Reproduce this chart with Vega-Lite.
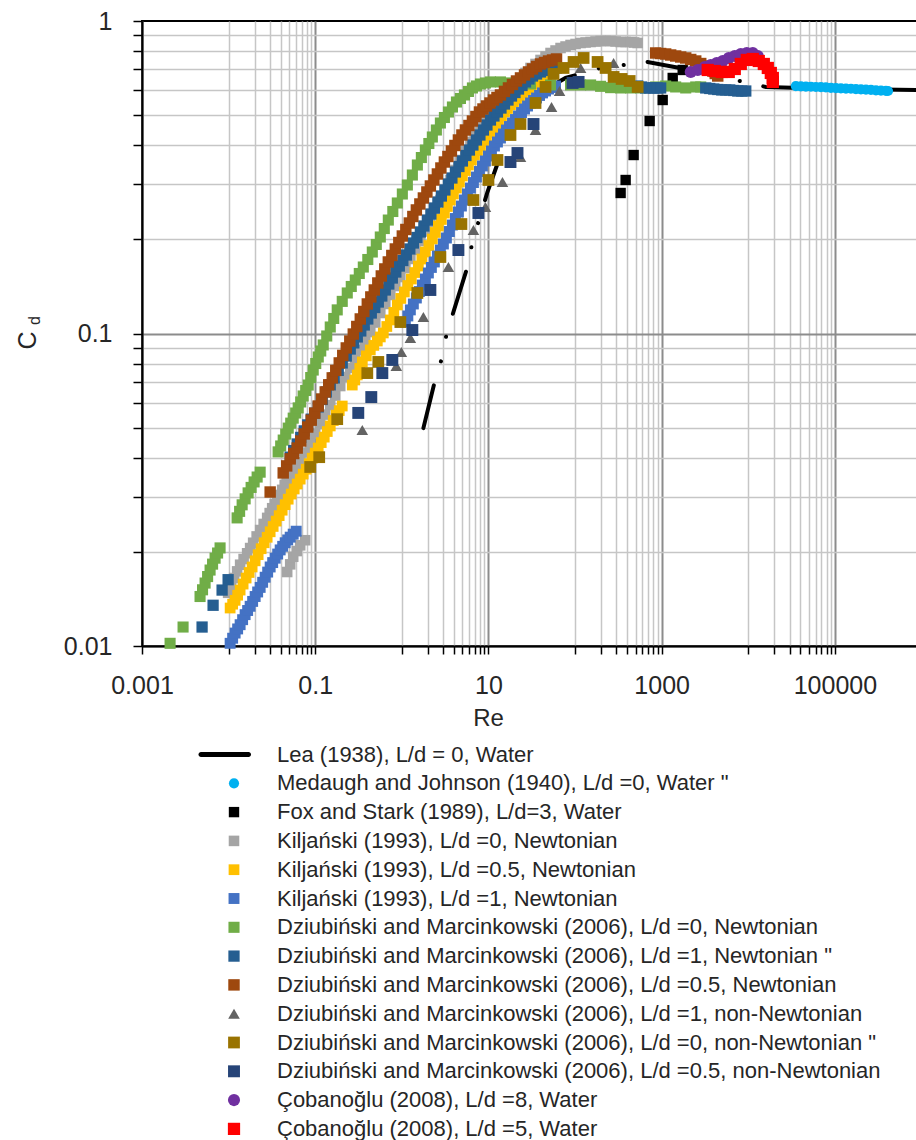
{
  "$schema": "https://vega.github.io/schema/vega-lite/v6.json",
  "width": 775,
  "height": 625,
  "autosize": "none",
  "padding": {"left": 142, "top": 21, "right": 0, "bottom": 494},
  "background": "white",
  "title": {"text": "d", "orient": "left", "anchor": "middle", "frame": "group", "fontSize": 16, "fontWeight": "normal", "color": "#262626", "font": "Liberation Sans", "offset": -28, "dx": 13},
  "config": {
    "font": "Liberation Sans",
    "view": {"stroke": "#000000", "strokeWidth": 2},
    "axis": {"labelFont": "Liberation Sans", "titleFont": "Liberation Sans", "labelColor": "#262626", "titleColor": "#262626", "titleFontWeight": "normal"}
  },
  "datasets": {
    "lea": [
      {"Re": 1.773, "Cd": 0.0498},
      {"Re": 2.375, "Cd": 0.0694},
      {"Re": 2.861, "Cd": 0.0823},
      {"Re": 3.269, "Cd": 0.0989},
      {"Re": 3.939, "Cd": 0.1172},
      {"Re": 5.718, "Cd": 0.1632},
      {"Re": 6.531, "Cd": 0.1962},
      {"Re": 9.736, "Cd": 0.2836},
      {"Re": 17.96, "Cd": 0.4579},
      {"Re": 34.95, "Cd": 0.5799},
      {"Re": 77.7, "Cd": 0.6573},
      {"Re": 197.2, "Cd": 0.7075},
      {"Re": 688.8, "Cd": 0.7395},
      {"Re": 2164, "Cd": 0.6971},
      {"Re": 15930, "Cd": 0.6151},
      {"Re": 40450, "Cd": 0.6106},
      {"Re": 153100, "Cd": 0.6058},
      {"Re": 887000, "Cd": 0.6017}
    ],
    "pts": [
      {"s": "Medaugh and Johnson (1940), L/d =0, Water \"", "Re": 35410, "Cd": 0.619},
      {"s": "Medaugh and Johnson (1940), L/d =0, Water \"", "Re": 40450, "Cd": 0.618},
      {"s": "Medaugh and Johnson (1940), L/d =0, Water \"", "Re": 46200, "Cd": 0.617},
      {"s": "Medaugh and Johnson (1940), L/d =0, Water \"", "Re": 52790, "Cd": 0.616},
      {"s": "Medaugh and Johnson (1940), L/d =0, Water \"", "Re": 60300, "Cd": 0.615},
      {"s": "Medaugh and Johnson (1940), L/d =0, Water \"", "Re": 68890, "Cd": 0.614},
      {"s": "Medaugh and Johnson (1940), L/d =0, Water \"", "Re": 78700, "Cd": 0.613},
      {"s": "Medaugh and Johnson (1940), L/d =0, Water \"", "Re": 89900, "Cd": 0.611},
      {"s": "Medaugh and Johnson (1940), L/d =0, Water \"", "Re": 102700, "Cd": 0.61},
      {"s": "Medaugh and Johnson (1940), L/d =0, Water \"", "Re": 117300, "Cd": 0.609},
      {"s": "Medaugh and Johnson (1940), L/d =0, Water \"", "Re": 134100, "Cd": 0.608},
      {"s": "Medaugh and Johnson (1940), L/d =0, Water \"", "Re": 153100, "Cd": 0.607},
      {"s": "Medaugh and Johnson (1940), L/d =0, Water \"", "Re": 174900, "Cd": 0.605},
      {"s": "Medaugh and Johnson (1940), L/d =0, Water \"", "Re": 199800, "Cd": 0.604},
      {"s": "Medaugh and Johnson (1940), L/d =0, Water \"", "Re": 228200, "Cd": 0.603},
      {"s": "Medaugh and Johnson (1940), L/d =0, Water \"", "Re": 260800, "Cd": 0.602},
      {"s": "Medaugh and Johnson (1940), L/d =0, Water \"", "Re": 297900, "Cd": 0.6},
      {"s": "Medaugh and Johnson (1940), L/d =0, Water \"", "Re": 340200, "Cd": 0.599},
      {"s": "Medaugh and Johnson (1940), L/d =0, Water \"", "Re": 388700, "Cd": 0.598},
      {"s": "Medaugh and Johnson (1940), L/d =0, Water \"", "Re": 410000, "Cd": 0.597},
      {"s": "Fox and Stark (1989), L/d=3, Water", "Re": 335.7, "Cd": 0.2816},
      {"s": "Fox and Stark (1989), L/d=3, Water", "Re": 383.6, "Cd": 0.3099},
      {"s": "Fox and Stark (1989), L/d=3, Water", "Re": 474.6, "Cd": 0.3725},
      {"s": "Fox and Stark (1989), L/d=3, Water", "Re": 726.6, "Cd": 0.4786},
      {"s": "Fox and Stark (1989), L/d=3, Water", "Re": 1027, "Cd": 0.5587},
      {"s": "Fox and Stark (1989), L/d=3, Water", "Re": 1341, "Cd": 0.6573},
      {"s": "Fox and Stark (1989), L/d=3, Water", "Re": 1749, "Cd": 0.6971},
      {"s": "Kiljański  (1993), L/d =0, Newtonian", "Re": 0.00987, "Cd": 0.0148},
      {"s": "Kiljański  (1993), L/d =0, Newtonian", "Re": 0.01069, "Cd": 0.01563},
      {"s": "Kiljański  (1993), L/d =0, Newtonian", "Re": 0.01158, "Cd": 0.0165},
      {"s": "Kiljański  (1993), L/d =0, Newtonian", "Re": 0.01254, "Cd": 0.01733},
      {"s": "Kiljański  (1993), L/d =0, Newtonian", "Re": 0.01358, "Cd": 0.0182},
      {"s": "Kiljański  (1993), L/d =0, Newtonian", "Re": 0.0149, "Cd": 0.01898},
      {"s": "Kiljański  (1993), L/d =0, Newtonian", "Re": 0.01636, "Cd": 0.0198},
      {"s": "Kiljański  (1993), L/d =0, Newtonian", "Re": 0.01772, "Cd": 0.02058},
      {"s": "Kiljański  (1993), L/d =0, Newtonian", "Re": 0.0192, "Cd": 0.0214},
      {"s": "Kiljański  (1993), L/d =0, Newtonian", "Re": 0.02107, "Cd": 0.02242},
      {"s": "Kiljański  (1993), L/d =0, Newtonian", "Re": 0.02313, "Cd": 0.0235},
      {"s": "Kiljański  (1993), L/d =0, Newtonian", "Re": 0.02539, "Cd": 0.02458},
      {"s": "Kiljański  (1993), L/d =0, Newtonian", "Re": 0.02787, "Cd": 0.0257},
      {"s": "Kiljański  (1993), L/d =0, Newtonian", "Re": 0.02979, "Cd": 0.02663},
      {"s": "Kiljański  (1993), L/d =0, Newtonian", "Re": 0.03184, "Cd": 0.0276},
      {"s": "Kiljański  (1993), L/d =0, Newtonian", "Re": 0.03403, "Cd": 0.02844},
      {"s": "Kiljański  (1993), L/d =0, Newtonian", "Re": 0.03637, "Cd": 0.0293},
      {"s": "Kiljański  (1993), L/d =0, Newtonian", "Re": 0.03887, "Cd": 0.03043},
      {"s": "Kiljański  (1993), L/d =0, Newtonian", "Re": 0.04154, "Cd": 0.0316},
      {"s": "Kiljański  (1993), L/d =0, Newtonian", "Re": 0.0444, "Cd": 0.03278},
      {"s": "Kiljański  (1993), L/d =0, Newtonian", "Re": 0.04746, "Cd": 0.034},
      {"s": "Kiljański  (1993), L/d =0, Newtonian", "Re": 0.05142, "Cd": 0.03528},
      {"s": "Kiljański  (1993), L/d =0, Newtonian", "Re": 0.0557, "Cd": 0.0366},
      {"s": "Kiljański  (1993), L/d =0, Newtonian", "Re": 0.06112, "Cd": 0.03768},
      {"s": "Kiljański  (1993), L/d =0, Newtonian", "Re": 0.04746, "Cd": 0.01725},
      {"s": "Kiljański  (1993), L/d =0, Newtonian", "Re": 0.05142, "Cd": 0.01825},
      {"s": "Kiljański  (1993), L/d =0, Newtonian", "Re": 0.0557, "Cd": 0.0193},
      {"s": "Kiljański  (1993), L/d =0, Newtonian", "Re": 0.06112, "Cd": 0.02013},
      {"s": "Kiljański  (1993), L/d =0, Newtonian", "Re": 0.06707, "Cd": 0.021},
      {"s": "Kiljański  (1993), L/d =0, Newtonian", "Re": 0.07662, "Cd": 0.0218},
      {"s": "Kiljański  (1993), L/d =0, Newtonian", "Re": 0.06707, "Cd": 0.0388},
      {"s": "Kiljański  (1993), L/d =0, Newtonian", "Re": 0.07662, "Cd": 0.0416},
      {"s": "Kiljański  (1993), L/d =0, Newtonian", "Re": 0.08753, "Cd": 0.0446},
      {"s": "Kiljański  (1993), L/d =0, Newtonian", "Re": 0.09998, "Cd": 0.04783},
      {"s": "Kiljański  (1993), L/d =0, Newtonian", "Re": 0.1142, "Cd": 0.0513},
      {"s": "Kiljański  (1993), L/d =0, Newtonian", "Re": 0.1305, "Cd": 0.05502},
      {"s": "Kiljański  (1993), L/d =0, Newtonian", "Re": 0.1491, "Cd": 0.059},
      {"s": "Kiljański  (1993), L/d =0, Newtonian", "Re": 0.1703, "Cd": 0.06329},
      {"s": "Kiljański  (1993), L/d =0, Newtonian", "Re": 0.1945, "Cd": 0.0679},
      {"s": "Kiljański  (1993), L/d =0, Newtonian", "Re": 0.2222, "Cd": 0.07259},
      {"s": "Kiljański  (1993), L/d =0, Newtonian", "Re": 0.2539, "Cd": 0.0776},
      {"s": "Kiljański  (1993), L/d =0, Newtonian", "Re": 0.29, "Cd": 0.08292},
      {"s": "Kiljański  (1993), L/d =0, Newtonian", "Re": 0.3313, "Cd": 0.0886},
      {"s": "Kiljański  (1993), L/d =0, Newtonian", "Re": 0.3784, "Cd": 0.09464},
      {"s": "Kiljański  (1993), L/d =0, Newtonian", "Re": 0.4323, "Cd": 0.1011},
      {"s": "Kiljański  (1993), L/d =0, Newtonian", "Re": 0.4938, "Cd": 0.1084},
      {"s": "Kiljański  (1993), L/d =0, Newtonian", "Re": 0.5641, "Cd": 0.1163},
      {"s": "Kiljański  (1993), L/d =0, Newtonian", "Re": 0.6444, "Cd": 0.1243},
      {"s": "Kiljański  (1993), L/d =0, Newtonian", "Re": 0.7362, "Cd": 0.1328},
      {"s": "Kiljański  (1993), L/d =0, Newtonian", "Re": 0.8411, "Cd": 0.1419},
      {"s": "Kiljański  (1993), L/d =0, Newtonian", "Re": 0.961, "Cd": 0.1516},
      {"s": "Kiljański  (1993), L/d =0, Newtonian", "Re": 1.098, "Cd": 0.162},
      {"s": "Kiljański  (1993), L/d =0, Newtonian", "Re": 1.254, "Cd": 0.1732},
      {"s": "Kiljański  (1993), L/d =0, Newtonian", "Re": 1.432, "Cd": 0.1851},
      {"s": "Kiljański  (1993), L/d =0, Newtonian", "Re": 1.636, "Cd": 0.1977},
      {"s": "Kiljański  (1993), L/d =0, Newtonian", "Re": 1.869, "Cd": 0.212},
      {"s": "Kiljański  (1993), L/d =0, Newtonian", "Re": 2.135, "Cd": 0.2274},
      {"s": "Kiljański  (1993), L/d =0, Newtonian", "Re": 2.439, "Cd": 0.2466},
      {"s": "Kiljański  (1993), L/d =0, Newtonian", "Re": 2.787, "Cd": 0.2674},
      {"s": "Kiljański  (1993), L/d =0, Newtonian", "Re": 3.184, "Cd": 0.2879},
      {"s": "Kiljański  (1993), L/d =0, Newtonian", "Re": 3.637, "Cd": 0.3099},
      {"s": "Kiljański  (1993), L/d =0, Newtonian", "Re": 4.155, "Cd": 0.3336},
      {"s": "Kiljański  (1993), L/d =0, Newtonian", "Re": 4.746, "Cd": 0.3591},
      {"s": "Kiljański  (1993), L/d =0, Newtonian", "Re": 5.422, "Cd": 0.3837},
      {"s": "Kiljański  (1993), L/d =0, Newtonian", "Re": 6.194, "Cd": 0.41},
      {"s": "Kiljański  (1993), L/d =0, Newtonian", "Re": 7.076, "Cd": 0.4332},
      {"s": "Kiljański  (1993), L/d =0, Newtonian", "Re": 8.083, "Cd": 0.4579},
      {"s": "Kiljański  (1993), L/d =0, Newtonian", "Re": 9.234, "Cd": 0.4821},
      {"s": "Kiljański  (1993), L/d =0, Newtonian", "Re": 10.55, "Cd": 0.5076},
      {"s": "Kiljański  (1993), L/d =0, Newtonian", "Re": 12.05, "Cd": 0.5325},
      {"s": "Kiljański  (1993), L/d =0, Newtonian", "Re": 13.76, "Cd": 0.5587},
      {"s": "Kiljański  (1993), L/d =0, Newtonian", "Re": 15.72, "Cd": 0.5817},
      {"s": "Kiljański  (1993), L/d =0, Newtonian", "Re": 17.96, "Cd": 0.6058},
      {"s": "Kiljański  (1993), L/d =0, Newtonian", "Re": 20.52, "Cd": 0.631},
      {"s": "Kiljański  (1993), L/d =0, Newtonian", "Re": 23.44, "Cd": 0.6573},
      {"s": "Kiljański  (1993), L/d =0, Newtonian", "Re": 26.78, "Cd": 0.6819},
      {"s": "Kiljański  (1993), L/d =0, Newtonian", "Re": 30.59, "Cd": 0.7075},
      {"s": "Kiljański  (1993), L/d =0, Newtonian", "Re": 34.95, "Cd": 0.7287},
      {"s": "Kiljański  (1993), L/d =0, Newtonian", "Re": 39.92, "Cd": 0.7505},
      {"s": "Kiljański  (1993), L/d =0, Newtonian", "Re": 45.6, "Cd": 0.77},
      {"s": "Kiljański  (1993), L/d =0, Newtonian", "Re": 52.1, "Cd": 0.79},
      {"s": "Kiljański  (1993), L/d =0, Newtonian", "Re": 59.52, "Cd": 0.8046},
      {"s": "Kiljański  (1993), L/d =0, Newtonian", "Re": 68.0, "Cd": 0.8195},
      {"s": "Kiljański  (1993), L/d =0, Newtonian", "Re": 77.66, "Cd": 0.8287},
      {"s": "Kiljański  (1993), L/d =0, Newtonian", "Re": 88.7, "Cd": 0.838},
      {"s": "Kiljański  (1993), L/d =0, Newtonian", "Re": 101.3, "Cd": 0.8442},
      {"s": "Kiljański  (1993), L/d =0, Newtonian", "Re": 115.8, "Cd": 0.8504},
      {"s": "Kiljański  (1993), L/d =0, Newtonian", "Re": 132.3, "Cd": 0.8535},
      {"s": "Kiljański  (1993), L/d =0, Newtonian", "Re": 151.1, "Cd": 0.8567},
      {"s": "Kiljański  (1993), L/d =0, Newtonian", "Re": 172.6, "Cd": 0.8598},
      {"s": "Kiljański  (1993), L/d =0, Newtonian", "Re": 197.2, "Cd": 0.863},
      {"s": "Kiljański  (1993), L/d =0, Newtonian", "Re": 225.3, "Cd": 0.863},
      {"s": "Kiljański  (1993), L/d =0, Newtonian", "Re": 257.3, "Cd": 0.863},
      {"s": "Kiljański  (1993), L/d =0, Newtonian", "Re": 293.9, "Cd": 0.8598},
      {"s": "Kiljański  (1993), L/d =0, Newtonian", "Re": 335.7, "Cd": 0.8567},
      {"s": "Kiljański  (1993), L/d =0, Newtonian", "Re": 383.5, "Cd": 0.8567},
      {"s": "Kiljański  (1993), L/d =0, Newtonian", "Re": 438.2, "Cd": 0.8567},
      {"s": "Kiljański  (1993), L/d =0, Newtonian", "Re": 480.9, "Cd": 0.8535},
      {"s": "Kiljański  (1993), L/d =0, Newtonian", "Re": 527.8, "Cd": 0.8504},
      {"s": "Kiljański (1993), L/d =0.5, Newtonian", "Re": 0.01041, "Cd": 0.01323},
      {"s": "Kiljański (1993), L/d =0.5, Newtonian", "Re": 0.01113, "Cd": 0.01361},
      {"s": "Kiljański (1993), L/d =0.5, Newtonian", "Re": 0.01189, "Cd": 0.014},
      {"s": "Kiljański (1993), L/d =0.5, Newtonian", "Re": 0.01271, "Cd": 0.01454},
      {"s": "Kiljański (1993), L/d =0.5, Newtonian", "Re": 0.01358, "Cd": 0.0151},
      {"s": "Kiljański (1993), L/d =0.5, Newtonian", "Re": 0.01471, "Cd": 0.01578},
      {"s": "Kiljański (1993), L/d =0.5, Newtonian", "Re": 0.01593, "Cd": 0.0165},
      {"s": "Kiljański (1993), L/d =0.5, Newtonian", "Re": 0.01725, "Cd": 0.01719},
      {"s": "Kiljański (1993), L/d =0.5, Newtonian", "Re": 0.01869, "Cd": 0.0179},
      {"s": "Kiljański (1993), L/d =0.5, Newtonian", "Re": 0.02025, "Cd": 0.01873},
      {"s": "Kiljański (1993), L/d =0.5, Newtonian", "Re": 0.02193, "Cd": 0.0196},
      {"s": "Kiljański (1993), L/d =0.5, Newtonian", "Re": 0.02375, "Cd": 0.02048},
      {"s": "Kiljański (1993), L/d =0.5, Newtonian", "Re": 0.02573, "Cd": 0.0214},
      {"s": "Kiljański (1993), L/d =0.5, Newtonian", "Re": 0.02787, "Cd": 0.02228},
      {"s": "Kiljański (1993), L/d =0.5, Newtonian", "Re": 0.03018, "Cd": 0.0232},
      {"s": "Kiljański (1993), L/d =0.5, Newtonian", "Re": 0.03269, "Cd": 0.02413},
      {"s": "Kiljański (1993), L/d =0.5, Newtonian", "Re": 0.0354, "Cd": 0.0251},
      {"s": "Kiljański (1993), L/d =0.5, Newtonian", "Re": 0.03835, "Cd": 0.02613},
      {"s": "Kiljański (1993), L/d =0.5, Newtonian", "Re": 0.04154, "Cd": 0.0272},
      {"s": "Kiljański (1993), L/d =0.5, Newtonian", "Re": 0.045, "Cd": 0.02833},
      {"s": "Kiljański (1993), L/d =0.5, Newtonian", "Re": 0.04874, "Cd": 0.0295},
      {"s": "Kiljański (1993), L/d =0.5, Newtonian", "Re": 0.05279, "Cd": 0.03063},
      {"s": "Kiljański (1993), L/d =0.5, Newtonian", "Re": 0.05717, "Cd": 0.0318},
      {"s": "Kiljański (1993), L/d =0.5, Newtonian", "Re": 0.06192, "Cd": 0.03298},
      {"s": "Kiljański (1993), L/d =0.5, Newtonian", "Re": 0.06707, "Cd": 0.0342},
      {"s": "Kiljański (1993), L/d =0.5, Newtonian", "Re": 0.07266, "Cd": 0.03548},
      {"s": "Kiljański (1993), L/d =0.5, Newtonian", "Re": 0.07871, "Cd": 0.0368},
      {"s": "Kiljański (1993), L/d =0.5, Newtonian", "Re": 0.08524, "Cd": 0.03832},
      {"s": "Kiljański (1993), L/d =0.5, Newtonian", "Re": 0.09232, "Cd": 0.0399},
      {"s": "Kiljański (1993), L/d =0.5, Newtonian", "Re": 0.09999, "Cd": 0.04142},
      {"s": "Kiljański (1993), L/d =0.5, Newtonian", "Re": 0.1083, "Cd": 0.043},
      {"s": "Kiljański (1993), L/d =0.5, Newtonian", "Re": 0.1173, "Cd": 0.04476},
      {"s": "Kiljański (1993), L/d =0.5, Newtonian", "Re": 0.1271, "Cd": 0.0466},
      {"s": "Kiljański (1993), L/d =0.5, Newtonian", "Re": 0.1377, "Cd": 0.04856},
      {"s": "Kiljański (1993), L/d =0.5, Newtonian", "Re": 0.1491, "Cd": 0.0506},
      {"s": "Kiljański (1993), L/d =0.5, Newtonian", "Re": 0.1615, "Cd": 0.05266},
      {"s": "Kiljański (1993), L/d =0.5, Newtonian", "Re": 0.1749, "Cd": 0.0548},
      {"s": "Kiljański (1993), L/d =0.5, Newtonian", "Re": 0.1894, "Cd": 0.05667},
      {"s": "Kiljański (1993), L/d =0.5, Newtonian", "Re": 0.2051, "Cd": 0.0586},
      {"s": "Kiljański (1993), L/d =0.5, Newtonian", "Re": 0.2677, "Cd": 0.0684},
      {"s": "Kiljański (1993), L/d =0.5, Newtonian", "Re": 0.2862, "Cd": 0.071},
      {"s": "Kiljański (1993), L/d =0.5, Newtonian", "Re": 0.3059, "Cd": 0.0737},
      {"s": "Kiljański (1993), L/d =0.5, Newtonian", "Re": 0.327, "Cd": 0.0773},
      {"s": "Kiljański (1993), L/d =0.5, Newtonian", "Re": 0.3496, "Cd": 0.0811},
      {"s": "Kiljański (1993), L/d =0.5, Newtonian", "Re": 0.3888, "Cd": 0.0848},
      {"s": "Kiljański (1993), L/d =0.5, Newtonian", "Re": 0.4323, "Cd": 0.0886},
      {"s": "Kiljański (1993), L/d =0.5, Newtonian", "Re": 0.4745, "Cd": 0.0916},
      {"s": "Kiljański (1993), L/d =0.5, Newtonian", "Re": 0.5209, "Cd": 0.0946},
      {"s": "Kiljański (1993), L/d =0.5, Newtonian", "Re": 0.5642, "Cd": 0.0975},
      {"s": "Kiljański (1993), L/d =0.5, Newtonian", "Re": 0.6112, "Cd": 0.1004},
      {"s": "Kiljański (1993), L/d =0.5, Newtonian", "Re": 0.6708, "Cd": 0.1053},
      {"s": "Kiljański (1993), L/d =0.5, Newtonian", "Re": 0.7362, "Cd": 0.1105},
      {"s": "Kiljański (1993), L/d =0.5, Newtonian", "Re": 0.8081, "Cd": 0.1168},
      {"s": "Kiljański (1993), L/d =0.5, Newtonian", "Re": 0.887, "Cd": 0.1234},
      {"s": "Kiljański (1993), L/d =0.5, Newtonian", "Re": 0.9738, "Cd": 0.1295},
      {"s": "Kiljański (1993), L/d =0.5, Newtonian", "Re": 1.069, "Cd": 0.1358},
      {"s": "Kiljański (1993), L/d =0.5, Newtonian", "Re": 1.173, "Cd": 0.1424},
      {"s": "Kiljański (1993), L/d =0.5, Newtonian", "Re": 1.288, "Cd": 0.1494},
      {"s": "Kiljański (1993), L/d =0.5, Newtonian", "Re": 1.413, "Cd": 0.1567},
      {"s": "Kiljański (1993), L/d =0.5, Newtonian", "Re": 1.551, "Cd": 0.1644},
      {"s": "Kiljański (1993), L/d =0.5, Newtonian", "Re": 1.703, "Cd": 0.1731},
      {"s": "Kiljański (1993), L/d =0.5, Newtonian", "Re": 1.869, "Cd": 0.1823},
      {"s": "Kiljański (1993), L/d =0.5, Newtonian", "Re": 2.052, "Cd": 0.1912},
      {"s": "Kiljański (1993), L/d =0.5, Newtonian", "Re": 2.252, "Cd": 0.2006},
      {"s": "Kiljański (1993), L/d =0.5, Newtonian", "Re": 2.439, "Cd": 0.2105},
      {"s": "Kiljański (1993), L/d =0.5, Newtonian", "Re": 2.642, "Cd": 0.2208},
      {"s": "Kiljański (1993), L/d =0.5, Newtonian", "Re": 2.861, "Cd": 0.2317},
      {"s": "Kiljański (1993), L/d =0.5, Newtonian", "Re": 3.099, "Cd": 0.243},
      {"s": "Kiljański (1993), L/d =0.5, Newtonian", "Re": 3.357, "Cd": 0.2549},
      {"s": "Kiljański (1993), L/d =0.5, Newtonian", "Re": 3.637, "Cd": 0.2674},
      {"s": "Kiljański (1993), L/d =0.5, Newtonian", "Re": 3.94, "Cd": 0.2795},
      {"s": "Kiljański (1993), L/d =0.5, Newtonian", "Re": 4.267, "Cd": 0.2921},
      {"s": "Kiljański (1993), L/d =0.5, Newtonian", "Re": 4.621, "Cd": 0.3053},
      {"s": "Kiljański (1993), L/d =0.5, Newtonian", "Re": 5.004, "Cd": 0.3192},
      {"s": "Kiljański (1993), L/d =0.5, Newtonian", "Re": 5.42, "Cd": 0.3324},
      {"s": "Kiljański (1993), L/d =0.5, Newtonian", "Re": 5.871, "Cd": 0.3461},
      {"s": "Kiljański (1993), L/d =0.5, Newtonian", "Re": 6.36, "Cd": 0.3591},
      {"s": "Kiljański (1993), L/d =0.5, Newtonian", "Re": 6.889, "Cd": 0.3725},
      {"s": "Kiljański (1993), L/d =0.5, Newtonian", "Re": 7.462, "Cd": 0.3851},
      {"s": "Kiljański (1993), L/d =0.5, Newtonian", "Re": 8.083, "Cd": 0.3981},
      {"s": "Kiljański (1993), L/d =0.5, Newtonian", "Re": 8.755, "Cd": 0.4115},
      {"s": "Kiljański (1993), L/d =0.5, Newtonian", "Re": 9.482, "Cd": 0.4254},
      {"s": "Kiljański (1993), L/d =0.5, Newtonian", "Re": 10.41, "Cd": 0.4397},
      {"s": "Kiljański (1993), L/d =0.5, Newtonian", "Re": 11.42, "Cd": 0.4545},
      {"s": "Kiljański (1993), L/d =0.5, Newtonian", "Re": 12.21, "Cd": 0.4681},
      {"s": "Kiljański (1993), L/d =0.5, Newtonian", "Re": 13.05, "Cd": 0.4822},
      {"s": "Kiljański (1993), L/d =0.5, Newtonian", "Re": 14.13, "Cd": 0.4966},
      {"s": "Kiljański (1993), L/d =0.5, Newtonian", "Re": 15.31, "Cd": 0.5114},
      {"s": "Kiljański (1993), L/d =0.5, Newtonian", "Re": 16.58, "Cd": 0.5248},
      {"s": "Kiljański (1993), L/d =0.5, Newtonian", "Re": 17.96, "Cd": 0.5385},
      {"s": "Kiljański (1993), L/d =0.5, Newtonian", "Re": 19.45, "Cd": 0.5505},
      {"s": "Kiljański (1993), L/d =0.5, Newtonian", "Re": 21.07, "Cd": 0.5627},
      {"s": "Kiljański (1993), L/d =0.5, Newtonian", "Re": 22.82, "Cd": 0.5755},
      {"s": "Kiljański (1993), L/d =0.5, Newtonian", "Re": 24.72, "Cd": 0.5886},
      {"s": "Kiljański (1993), L/d =0.5, Newtonian", "Re": 26.77, "Cd": 0.5995},
      {"s": "Kiljański (1993), L/d =0.5, Newtonian", "Re": 29.0, "Cd": 0.6106},
      {"s": "Kiljański (1993), L/d =0.5, Newtonian", "Re": 31.4, "Cd": 0.6195},
      {"s": "Kiljański (1993), L/d =0.5, Newtonian", "Re": 34.01, "Cd": 0.6286},
      {"s": "Kiljański (1993), L/d =0.5, Newtonian", "Re": 36.85, "Cd": 0.638},
      {"s": "Kiljański (1993), L/d =0.5, Newtonian", "Re": 39.92, "Cd": 0.6477},
      {"s": "Kiljański (1993), L/d =0.5, Newtonian", "Re": 43.23, "Cd": 0.6549},
      {"s": "Kiljański (1993), L/d =0.5, Newtonian", "Re": 46.82, "Cd": 0.6622},
      {"s": "Kiljański (1993), L/d =1, Newtonian", "Re": 0.01041, "Cd": 0.0102},
      {"s": "Kiljański (1993), L/d =1, Newtonian", "Re": 0.01113, "Cd": 0.01059},
      {"s": "Kiljański (1993), L/d =1, Newtonian", "Re": 0.01189, "Cd": 0.011},
      {"s": "Kiljański (1993), L/d =1, Newtonian", "Re": 0.01271, "Cd": 0.01134},
      {"s": "Kiljański (1993), L/d =1, Newtonian", "Re": 0.01358, "Cd": 0.0117},
      {"s": "Kiljański (1993), L/d =1, Newtonian", "Re": 0.01451, "Cd": 0.01214},
      {"s": "Kiljański (1993), L/d =1, Newtonian", "Re": 0.01551, "Cd": 0.0126},
      {"s": "Kiljański (1993), L/d =1, Newtonian", "Re": 0.01658, "Cd": 0.01299},
      {"s": "Kiljański (1993), L/d =1, Newtonian", "Re": 0.01772, "Cd": 0.0134},
      {"s": "Kiljański (1993), L/d =1, Newtonian", "Re": 0.01894, "Cd": 0.01389},
      {"s": "Kiljański (1993), L/d =1, Newtonian", "Re": 0.02025, "Cd": 0.0144},
      {"s": "Kiljański (1993), L/d =1, Newtonian", "Re": 0.02164, "Cd": 0.01489},
      {"s": "Kiljański (1993), L/d =1, Newtonian", "Re": 0.02313, "Cd": 0.0154},
      {"s": "Kiljański (1993), L/d =1, Newtonian", "Re": 0.02472, "Cd": 0.01599},
      {"s": "Kiljański (1993), L/d =1, Newtonian", "Re": 0.02642, "Cd": 0.0166},
      {"s": "Kiljański (1993), L/d =1, Newtonian", "Re": 0.02824, "Cd": 0.01724},
      {"s": "Kiljański (1993), L/d =1, Newtonian", "Re": 0.03018, "Cd": 0.0179},
      {"s": "Kiljański (1993), L/d =1, Newtonian", "Re": 0.03226, "Cd": 0.01849},
      {"s": "Kiljański (1993), L/d =1, Newtonian", "Re": 0.03448, "Cd": 0.0191},
      {"s": "Kiljański (1993), L/d =1, Newtonian", "Re": 0.03685, "Cd": 0.01969},
      {"s": "Kiljański (1993), L/d =1, Newtonian", "Re": 0.03938, "Cd": 0.0203},
      {"s": "Kiljański (1993), L/d =1, Newtonian", "Re": 0.04209, "Cd": 0.02084},
      {"s": "Kiljański (1993), L/d =1, Newtonian", "Re": 0.04499, "Cd": 0.0214},
      {"s": "Kiljański (1993), L/d =1, Newtonian", "Re": 0.04809, "Cd": 0.02185},
      {"s": "Kiljański (1993), L/d =1, Newtonian", "Re": 0.0514, "Cd": 0.0223},
      {"s": "Kiljański (1993), L/d =1, Newtonian", "Re": 0.05567, "Cd": 0.0228},
      {"s": "Kiljański (1993), L/d =1, Newtonian", "Re": 0.0603, "Cd": 0.0233},
      {"s": "Kiljański (1993), L/d =1, Newtonian", "Re": 1.098, "Cd": 0.1088},
      {"s": "Kiljański (1993), L/d =1, Newtonian", "Re": 1.173, "Cd": 0.1138},
      {"s": "Kiljański (1993), L/d =1, Newtonian", "Re": 1.254, "Cd": 0.119},
      {"s": "Kiljański (1993), L/d =1, Newtonian", "Re": 1.358, "Cd": 0.1243},
      {"s": "Kiljański (1993), L/d =1, Newtonian", "Re": 1.471, "Cd": 0.1299},
      {"s": "Kiljański (1993), L/d =1, Newtonian", "Re": 1.593, "Cd": 0.1362},
      {"s": "Kiljański (1993), L/d =1, Newtonian", "Re": 1.726, "Cd": 0.1429},
      {"s": "Kiljański (1993), L/d =1, Newtonian", "Re": 1.87, "Cd": 0.1494},
      {"s": "Kiljański (1993), L/d =1, Newtonian", "Re": 2.025, "Cd": 0.1562},
      {"s": "Kiljański (1993), L/d =1, Newtonian", "Re": 2.193, "Cd": 0.1627},
      {"s": "Kiljański (1993), L/d =1, Newtonian", "Re": 2.375, "Cd": 0.1694},
      {"s": "Kiljański (1993), L/d =1, Newtonian", "Re": 2.573, "Cd": 0.177},
      {"s": "Kiljański (1993), L/d =1, Newtonian", "Re": 2.787, "Cd": 0.185},
      {"s": "Kiljański (1993), L/d =1, Newtonian", "Re": 3.018, "Cd": 0.1934},
      {"s": "Kiljański (1993), L/d =1, Newtonian", "Re": 3.269, "Cd": 0.2021},
      {"s": "Kiljański (1993), L/d =1, Newtonian", "Re": 3.541, "Cd": 0.212},
      {"s": "Kiljański (1993), L/d =1, Newtonian", "Re": 3.836, "Cd": 0.2224},
      {"s": "Kiljański (1993), L/d =1, Newtonian", "Re": 4.154, "Cd": 0.2333},
      {"s": "Kiljański (1993), L/d =1, Newtonian", "Re": 4.499, "Cd": 0.2448},
      {"s": "Kiljański (1993), L/d =1, Newtonian", "Re": 4.874, "Cd": 0.2558},
      {"s": "Kiljański (1993), L/d =1, Newtonian", "Re": 5.28, "Cd": 0.2674},
      {"s": "Kiljański (1993), L/d =1, Newtonian", "Re": 5.719, "Cd": 0.2796},
      {"s": "Kiljański (1993), L/d =1, Newtonian", "Re": 6.194, "Cd": 0.2921},
      {"s": "Kiljański (1993), L/d =1, Newtonian", "Re": 6.708, "Cd": 0.3041},
      {"s": "Kiljański (1993), L/d =1, Newtonian", "Re": 7.265, "Cd": 0.3167},
      {"s": "Kiljański (1993), L/d =1, Newtonian", "Re": 7.868, "Cd": 0.3299},
      {"s": "Kiljański (1993), L/d =1, Newtonian", "Re": 8.521, "Cd": 0.3436},
      {"s": "Kiljański (1993), L/d =1, Newtonian", "Re": 9.231, "Cd": 0.3565},
      {"s": "Kiljański (1993), L/d =1, Newtonian", "Re": 10.0, "Cd": 0.3698},
      {"s": "Kiljański (1993), L/d =1, Newtonian", "Re": 10.83, "Cd": 0.3837},
      {"s": "Kiljański (1993), L/d =1, Newtonian", "Re": 11.73, "Cd": 0.3981},
      {"s": "Kiljański (1993), L/d =1, Newtonian", "Re": 12.7, "Cd": 0.41},
      {"s": "Kiljański (1993), L/d =1, Newtonian", "Re": 13.76, "Cd": 0.4222},
      {"s": "Kiljański (1993), L/d =1, Newtonian", "Re": 14.91, "Cd": 0.4349},
      {"s": "Kiljański (1993), L/d =1, Newtonian", "Re": 16.15, "Cd": 0.4479},
      {"s": "Kiljański (1993), L/d =1, Newtonian", "Re": 17.49, "Cd": 0.4596},
      {"s": "Kiljański (1993), L/d =1, Newtonian", "Re": 18.95, "Cd": 0.4716},
      {"s": "Kiljański (1993), L/d =1, Newtonian", "Re": 20.52, "Cd": 0.4839},
      {"s": "Kiljański (1993), L/d =1, Newtonian", "Re": 22.23, "Cd": 0.4966},
      {"s": "Kiljański (1993), L/d =1, Newtonian", "Re": 24.08, "Cd": 0.5095},
      {"s": "Kiljański (1993), L/d =1, Newtonian", "Re": 26.08, "Cd": 0.5228},
      {"s": "Kiljański (1993), L/d =1, Newtonian", "Re": 28.25, "Cd": 0.5345},
      {"s": "Kiljański (1993), L/d =1, Newtonian", "Re": 30.59, "Cd": 0.5465},
      {"s": "Kiljański (1993), L/d =1, Newtonian", "Re": 33.13, "Cd": 0.5566},
      {"s": "Kiljański (1993), L/d =1, Newtonian", "Re": 35.89, "Cd": 0.5669},
      {"s": "Kiljański (1993), L/d =1, Newtonian", "Re": 38.87, "Cd": 0.5777},
      {"s": "Kiljański (1993), L/d =1, Newtonian", "Re": 42.1, "Cd": 0.5886},
      {"s": "Kiljański (1993), L/d =1, Newtonian", "Re": 45.6, "Cd": 0.5971},
      {"s": "Kiljański (1993), L/d =1, Newtonian", "Re": 49.4, "Cd": 0.6058},
      {"s": "Kiljański (1993), L/d =1, Newtonian", "Re": 54.22, "Cd": 0.6126},
      {"s": "Kiljański (1993), L/d =1, Newtonian", "Re": 59.5, "Cd": 0.6194},
      {"s": "Dziubiński and Marcinkowski (2006), L/d =0, Newtonian", "Re": 0.00211, "Cd": 0.0102},
      {"s": "Dziubiński and Marcinkowski (2006), L/d =0, Newtonian", "Re": 0.00298, "Cd": 0.0115},
      {"s": "Dziubiński and Marcinkowski (2006), L/d =0, Newtonian", "Re": 0.00468, "Cd": 0.0144},
      {"s": "Dziubiński and Marcinkowski (2006), L/d =0, Newtonian", "Re": 0.005, "Cd": 0.01513},
      {"s": "Dziubiński and Marcinkowski (2006), L/d =0, Newtonian", "Re": 0.00535, "Cd": 0.0159},
      {"s": "Dziubiński and Marcinkowski (2006), L/d =0, Newtonian", "Re": 0.00572, "Cd": 0.01668},
      {"s": "Dziubiński and Marcinkowski (2006), L/d =0, Newtonian", "Re": 0.00611, "Cd": 0.0175},
      {"s": "Dziubiński and Marcinkowski (2006), L/d =0, Newtonian", "Re": 0.00653, "Cd": 0.01828},
      {"s": "Dziubiński and Marcinkowski (2006), L/d =0, Newtonian", "Re": 0.00698, "Cd": 0.0191},
      {"s": "Dziubiński and Marcinkowski (2006), L/d =0, Newtonian", "Re": 0.00746, "Cd": 0.01984},
      {"s": "Dziubiński and Marcinkowski (2006), L/d =0, Newtonian", "Re": 0.00797, "Cd": 0.0206},
      {"s": "Dziubiński and Marcinkowski (2006), L/d =0, Newtonian", "Re": 0.01254, "Cd": 0.0257},
      {"s": "Dziubiński and Marcinkowski (2006), L/d =0, Newtonian", "Re": 0.0134, "Cd": 0.02697},
      {"s": "Dziubiński and Marcinkowski (2006), L/d =0, Newtonian", "Re": 0.01433, "Cd": 0.0283},
      {"s": "Dziubiński and Marcinkowski (2006), L/d =0, Newtonian", "Re": 0.01552, "Cd": 0.02957},
      {"s": "Dziubiński and Marcinkowski (2006), L/d =0, Newtonian", "Re": 0.0168, "Cd": 0.0309},
      {"s": "Dziubiński and Marcinkowski (2006), L/d =0, Newtonian", "Re": 0.01819, "Cd": 0.03217},
      {"s": "Dziubiński and Marcinkowski (2006), L/d =0, Newtonian", "Re": 0.0197, "Cd": 0.0335},
      {"s": "Dziubiński and Marcinkowski (2006), L/d =0, Newtonian", "Re": 0.02135, "Cd": 0.03473},
      {"s": "Dziubiński and Marcinkowski (2006), L/d =0, Newtonian", "Re": 0.02313, "Cd": 0.036},
      {"s": "Dziubiński and Marcinkowski (2006), L/d =0, Newtonian", "Re": 0.0373, "Cd": 0.0418},
      {"s": "Dziubiński and Marcinkowski (2006), L/d =0, Newtonian", "Re": 0.03991, "Cd": 0.04366},
      {"s": "Dziubiński and Marcinkowski (2006), L/d =0, Newtonian", "Re": 0.0427, "Cd": 0.0456},
      {"s": "Dziubiński and Marcinkowski (2006), L/d =0, Newtonian", "Re": 0.04565, "Cd": 0.04766},
      {"s": "Dziubiński and Marcinkowski (2006), L/d =0, Newtonian", "Re": 0.0488, "Cd": 0.0498},
      {"s": "Dziubiński and Marcinkowski (2006), L/d =0, Newtonian", "Re": 0.05214, "Cd": 0.05166},
      {"s": "Dziubiński and Marcinkowski (2006), L/d =0, Newtonian", "Re": 0.0557, "Cd": 0.0536},
      {"s": "Dziubiński and Marcinkowski (2006), L/d =0, Newtonian", "Re": 0.05952, "Cd": 0.05566},
      {"s": "Dziubiński and Marcinkowski (2006), L/d =0, Newtonian", "Re": 0.0636, "Cd": 0.0578},
      {"s": "Dziubiński and Marcinkowski (2006), L/d =0, Newtonian", "Re": 0.06795, "Cd": 0.06039},
      {"s": "Dziubiński and Marcinkowski (2006), L/d =0, Newtonian", "Re": 0.0726, "Cd": 0.0631},
      {"s": "Dziubiński and Marcinkowski (2006), L/d =0, Newtonian", "Re": 0.07763, "Cd": 0.0657},
      {"s": "Dziubiński and Marcinkowski (2006), L/d =0, Newtonian", "Re": 0.083, "Cd": 0.0684},
      {"s": "Dziubiński and Marcinkowski (2006), L/d =0, Newtonian", "Re": 0.0887, "Cd": 0.07229},
      {"s": "Dziubiński and Marcinkowski (2006), L/d =0, Newtonian", "Re": 0.0948, "Cd": 0.0764},
      {"s": "Dziubiński and Marcinkowski (2006), L/d =0, Newtonian", "Re": 0.1014, "Cd": 0.08016},
      {"s": "Dziubiński and Marcinkowski (2006), L/d =0, Newtonian", "Re": 0.1084, "Cd": 0.0841},
      {"s": "Dziubiński and Marcinkowski (2006), L/d =0, Newtonian", "Re": 0.1158, "Cd": 0.08791},
      {"s": "Dziubiński and Marcinkowski (2006), L/d =0, Newtonian", "Re": 0.1237, "Cd": 0.0919},
      {"s": "Dziubiński and Marcinkowski (2006), L/d =0, Newtonian", "Re": 0.1358, "Cd": 0.09818},
      {"s": "Dziubiński and Marcinkowski (2006), L/d =0, Newtonian", "Re": 0.1491, "Cd": 0.1049},
      {"s": "Dziubiński and Marcinkowski (2006), L/d =0, Newtonian", "Re": 0.1636, "Cd": 0.1117},
      {"s": "Dziubiński and Marcinkowski (2006), L/d =0, Newtonian", "Re": 0.1795, "Cd": 0.119},
      {"s": "Dziubiński and Marcinkowski (2006), L/d =0, Newtonian", "Re": 0.2051, "Cd": 0.1267},
      {"s": "Dziubiński and Marcinkowski (2006), L/d =0, Newtonian", "Re": 0.2344, "Cd": 0.1348},
      {"s": "Dziubiński and Marcinkowski (2006), L/d =0, Newtonian", "Re": 0.2607, "Cd": 0.1414},
      {"s": "Dziubiński and Marcinkowski (2006), L/d =0, Newtonian", "Re": 0.29, "Cd": 0.1483},
      {"s": "Dziubiński and Marcinkowski (2006), L/d =0, Newtonian", "Re": 0.3227, "Cd": 0.1556},
      {"s": "Dziubiński and Marcinkowski (2006), L/d =0, Newtonian", "Re": 0.359, "Cd": 0.1632},
      {"s": "Dziubiński and Marcinkowski (2006), L/d =0, Newtonian", "Re": 0.4046, "Cd": 0.1725},
      {"s": "Dziubiński and Marcinkowski (2006), L/d =0, Newtonian", "Re": 0.456, "Cd": 0.1823},
      {"s": "Dziubiński and Marcinkowski (2006), L/d =0, Newtonian", "Re": 0.5072, "Cd": 0.1927},
      {"s": "Dziubiński and Marcinkowski (2006), L/d =0, Newtonian", "Re": 0.5641, "Cd": 0.2036},
      {"s": "Dziubiński and Marcinkowski (2006), L/d =0, Newtonian", "Re": 0.6275, "Cd": 0.2167},
      {"s": "Dziubiński and Marcinkowski (2006), L/d =0, Newtonian", "Re": 0.698, "Cd": 0.2307},
      {"s": "Dziubiński and Marcinkowski (2006), L/d =0, Newtonian", "Re": 0.7868, "Cd": 0.2457},
      {"s": "Dziubiński and Marcinkowski (2006), L/d =0, Newtonian", "Re": 0.887, "Cd": 0.2616},
      {"s": "Dziubiński and Marcinkowski (2006), L/d =0, Newtonian", "Re": 1.0135, "Cd": 0.2795},
      {"s": "Dziubiński and Marcinkowski (2006), L/d =0, Newtonian", "Re": 1.158, "Cd": 0.2987},
      {"s": "Dziubiński and Marcinkowski (2006), L/d =0, Newtonian", "Re": 1.3228, "Cd": 0.3215},
      {"s": "Dziubiński and Marcinkowski (2006), L/d =0, Newtonian", "Re": 1.511, "Cd": 0.3461},
      {"s": "Dziubiński and Marcinkowski (2006), L/d =0, Newtonian", "Re": 1.6805, "Cd": 0.3657},
      {"s": "Dziubiński and Marcinkowski (2006), L/d =0, Newtonian", "Re": 1.869, "Cd": 0.3865},
      {"s": "Dziubiński and Marcinkowski (2006), L/d =0, Newtonian", "Re": 2.0507, "Cd": 0.4055},
      {"s": "Dziubiński and Marcinkowski (2006), L/d =0, Newtonian", "Re": 2.25, "Cd": 0.4254},
      {"s": "Dziubiński and Marcinkowski (2006), L/d =0, Newtonian", "Re": 2.504, "Cd": 0.4479},
      {"s": "Dziubiński and Marcinkowski (2006), L/d =0, Newtonian", "Re": 2.787, "Cd": 0.4716},
      {"s": "Dziubiński and Marcinkowski (2006), L/d =0, Newtonian", "Re": 3.101, "Cd": 0.4911},
      {"s": "Dziubiński and Marcinkowski (2006), L/d =0, Newtonian", "Re": 3.45, "Cd": 0.5114},
      {"s": "Dziubiński and Marcinkowski (2006), L/d =0, Newtonian", "Re": 3.838, "Cd": 0.5306},
      {"s": "Dziubiński and Marcinkowski (2006), L/d =0, Newtonian", "Re": 4.27, "Cd": 0.5505},
      {"s": "Dziubiński and Marcinkowski (2006), L/d =0, Newtonian", "Re": 4.748, "Cd": 0.565},
      {"s": "Dziubiński and Marcinkowski (2006), L/d =0, Newtonian", "Re": 5.28, "Cd": 0.5799},
      {"s": "Dziubiński and Marcinkowski (2006), L/d =0, Newtonian", "Re": 5.872, "Cd": 0.5951},
      {"s": "Dziubiński and Marcinkowski (2006), L/d =0, Newtonian", "Re": 6.53, "Cd": 0.6106},
      {"s": "Dziubiński and Marcinkowski (2006), L/d =0, Newtonian", "Re": 7.265, "Cd": 0.6195},
      {"s": "Dziubiński and Marcinkowski (2006), L/d =0, Newtonian", "Re": 8.083, "Cd": 0.6286},
      {"s": "Dziubiński and Marcinkowski (2006), L/d =0, Newtonian", "Re": 9.234, "Cd": 0.6334},
      {"s": "Dziubiński and Marcinkowski (2006), L/d =0, Newtonian", "Re": 10.55, "Cd": 0.6383},
      {"s": "Dziubiński and Marcinkowski (2006), L/d =0, Newtonian", "Re": 13.76, "Cd": 0.6383},
      {"s": "Dziubiński and Marcinkowski (2006), L/d =0, Newtonian", "Re": 17.96, "Cd": 0.6336},
      {"s": "Dziubiński and Marcinkowski (2006), L/d =0, Newtonian", "Re": 30.59, "Cd": 0.6289},
      {"s": "Dziubiński and Marcinkowski (2006), L/d =0, Newtonian", "Re": 52.1, "Cd": 0.6242},
      {"s": "Dziubiński and Marcinkowski (2006), L/d =0, Newtonian", "Re": 88.7, "Cd": 0.6242},
      {"s": "Dziubiński and Marcinkowski (2006), L/d =0, Newtonian", "Re": 115.8, "Cd": 0.6242},
      {"s": "Dziubiński and Marcinkowski (2006), L/d =0, Newtonian", "Re": 151.1, "Cd": 0.6242},
      {"s": "Dziubiński and Marcinkowski (2006), L/d =0, Newtonian", "Re": 197.2, "Cd": 0.618},
      {"s": "Dziubiński and Marcinkowski (2006), L/d =0, Newtonian", "Re": 257.3, "Cd": 0.612},
      {"s": "Dziubiński and Marcinkowski (2006), L/d =0, Newtonian", "Re": 335.7, "Cd": 0.6106},
      {"s": "Dziubiński and Marcinkowski (2006), L/d =0, Newtonian", "Re": 438.2, "Cd": 0.6106},
      {"s": "Dziubiński and Marcinkowski (2006), L/d =0, Newtonian", "Re": 571.8, "Cd": 0.6106},
      {"s": "Dziubiński and Marcinkowski (2006), L/d =0, Newtonian", "Re": 852.3, "Cd": 0.6151},
      {"s": "Dziubiński and Marcinkowski (2006), L/d =0, Newtonian", "Re": 1112, "Cd": 0.6194},
      {"s": "Dziubiński and Marcinkowski (2006), L/d =0, Newtonian", "Re": 1451, "Cd": 0.6151},
      {"s": "Dziubiński and Marcinkowski (2006), L/d =0, Newtonian", "Re": 1895, "Cd": 0.6106},
      {"s": "Dziubiński and Marcinkowski (2006), L/d =0, Newtonian", "Re": 2473, "Cd": 0.6151},
      {"s": "Dziubiński and Marcinkowski (2006), L/d =0, Newtonian", "Re": 2825, "Cd": 0.6151},
      {"s": "Dziubiński and Marcinkowski (2006), L/d =1, Newtonian \"", "Re": 0.00494, "Cd": 0.0115},
      {"s": "Dziubiński and Marcinkowski (2006), L/d =1, Newtonian \"", "Re": 0.00662, "Cd": 0.0135},
      {"s": "Dziubiński and Marcinkowski (2006), L/d =1, Newtonian \"", "Re": 0.00841, "Cd": 0.0151},
      {"s": "Dziubiński and Marcinkowski (2006), L/d =1, Newtonian \"", "Re": 0.00987, "Cd": 0.0163},
      {"s": "Dziubiński and Marcinkowski (2006), L/d =1, Newtonian \"", "Re": 0.0514, "Cd": 0.0402},
      {"s": "Dziubiński and Marcinkowski (2006), L/d =1, Newtonian \"", "Re": 0.0564, "Cd": 0.0422},
      {"s": "Dziubiński and Marcinkowski (2006), L/d =1, Newtonian \"", "Re": 0.0619, "Cd": 0.0443},
      {"s": "Dziubiński and Marcinkowski (2006), L/d =1, Newtonian \"", "Re": 0.068, "Cd": 0.0465},
      {"s": "Dziubiński and Marcinkowski (2006), L/d =1, Newtonian \"", "Re": 0.0746, "Cd": 0.0488},
      {"s": "Dziubiński and Marcinkowski (2006), L/d =1, Newtonian \"", "Re": 0.0819, "Cd": 0.051},
      {"s": "Dziubiński and Marcinkowski (2006), L/d =1, Newtonian \"", "Re": 0.0899, "Cd": 0.0532},
      {"s": "Dziubiński and Marcinkowski (2006), L/d =1, Newtonian \"", "Re": 0.0987, "Cd": 0.0556},
      {"s": "Dziubiński and Marcinkowski (2006), L/d =1, Newtonian \"", "Re": 0.1083, "Cd": 0.0582},
      {"s": "Dziubiński and Marcinkowski (2006), L/d =1, Newtonian \"", "Re": 0.1205, "Cd": 0.0615},
      {"s": "Dziubiński and Marcinkowski (2006), L/d =1, Newtonian \"", "Re": 0.134, "Cd": 0.065},
      {"s": "Dziubiński and Marcinkowski (2006), L/d =1, Newtonian \"", "Re": 0.149, "Cd": 0.0685},
      {"s": "Dziubiński and Marcinkowski (2006), L/d =1, Newtonian \"", "Re": 0.1658, "Cd": 0.0721},
      {"s": "Dziubiński and Marcinkowski (2006), L/d =1, Newtonian \"", "Re": 0.1844, "Cd": 0.0762},
      {"s": "Dziubiński and Marcinkowski (2006), L/d =1, Newtonian \"", "Re": 0.2051, "Cd": 0.0805},
      {"s": "Dziubiński and Marcinkowski (2006), L/d =1, Newtonian \"", "Re": 0.2282, "Cd": 0.0847},
      {"s": "Dziubiński and Marcinkowski (2006), L/d =1, Newtonian \"", "Re": 0.2539, "Cd": 0.0892},
      {"s": "Dziubiński and Marcinkowski (2006), L/d =1, Newtonian \"", "Re": 0.2787, "Cd": 0.0933},
      {"s": "Dziubiński and Marcinkowski (2006), L/d =1, Newtonian \"", "Re": 0.3059, "Cd": 0.0975},
      {"s": "Dziubiński and Marcinkowski (2006), L/d =1, Newtonian \"", "Re": 0.3357, "Cd": 0.1019},
      {"s": "Dziubiński and Marcinkowski (2006), L/d =1, Newtonian \"", "Re": 0.3685, "Cd": 0.1065},
      {"s": "Dziubiński and Marcinkowski (2006), L/d =1, Newtonian \"", "Re": 0.4044, "Cd": 0.1113},
      {"s": "Dziubiński and Marcinkowski (2006), L/d =1, Newtonian \"", "Re": 0.4439, "Cd": 0.1163},
      {"s": "Dziubiński and Marcinkowski (2006), L/d =1, Newtonian \"", "Re": 0.4873, "Cd": 0.1211},
      {"s": "Dziubiński and Marcinkowski (2006), L/d =1, Newtonian \"", "Re": 0.535, "Cd": 0.1261},
      {"s": "Dziubiński and Marcinkowski (2006), L/d =1, Newtonian \"", "Re": 0.5872, "Cd": 0.1318},
      {"s": "Dziubiński and Marcinkowski (2006), L/d =1, Newtonian \"", "Re": 0.6444, "Cd": 0.1378},
      {"s": "Dziubiński and Marcinkowski (2006), L/d =1, Newtonian \"", "Re": 0.7074, "Cd": 0.144},
      {"s": "Dziubiński and Marcinkowski (2006), L/d =1, Newtonian \"", "Re": 0.7766, "Cd": 0.1505},
      {"s": "Dziubiński and Marcinkowski (2006), L/d =1, Newtonian \"", "Re": 0.8524, "Cd": 0.1573},
      {"s": "Dziubiński and Marcinkowski (2006), L/d =1, Newtonian \"", "Re": 0.9356, "Cd": 0.1644},
      {"s": "Dziubiński and Marcinkowski (2006), L/d =1, Newtonian \"", "Re": 1.027, "Cd": 0.1712},
      {"s": "Dziubiński and Marcinkowski (2006), L/d =1, Newtonian \"", "Re": 1.127, "Cd": 0.1783},
      {"s": "Dziubiński and Marcinkowski (2006), L/d =1, Newtonian \"", "Re": 1.237, "Cd": 0.1864},
      {"s": "Dziubiński and Marcinkowski (2006), L/d =1, Newtonian \"", "Re": 1.358, "Cd": 0.1948},
      {"s": "Dziubiński and Marcinkowski (2006), L/d =1, Newtonian \"", "Re": 1.491, "Cd": 0.2029},
      {"s": "Dziubiński and Marcinkowski (2006), L/d =1, Newtonian \"", "Re": 1.636, "Cd": 0.2113},
      {"s": "Dziubiński and Marcinkowski (2006), L/d =1, Newtonian \"", "Re": 1.796, "Cd": 0.2208},
      {"s": "Dziubiński and Marcinkowski (2006), L/d =1, Newtonian \"", "Re": 1.971, "Cd": 0.2307},
      {"s": "Dziubiński and Marcinkowski (2006), L/d =1, Newtonian \"", "Re": 2.164, "Cd": 0.2412},
      {"s": "Dziubiński and Marcinkowski (2006), L/d =1, Newtonian \"", "Re": 2.375, "Cd": 0.2521},
      {"s": "Dziubiński and Marcinkowski (2006), L/d =1, Newtonian \"", "Re": 2.607, "Cd": 0.2635},
      {"s": "Dziubiński and Marcinkowski (2006), L/d =1, Newtonian \"", "Re": 2.861, "Cd": 0.2754},
      {"s": "Dziubiński and Marcinkowski (2006), L/d =1, Newtonian \"", "Re": 3.141, "Cd": 0.2879},
      {"s": "Dziubiński and Marcinkowski (2006), L/d =1, Newtonian \"", "Re": 3.448, "Cd": 0.3009},
      {"s": "Dziubiński and Marcinkowski (2006), L/d =1, Newtonian \"", "Re": 3.785, "Cd": 0.3145},
      {"s": "Dziubiński and Marcinkowski (2006), L/d =1, Newtonian \"", "Re": 4.155, "Cd": 0.3287},
      {"s": "Dziubiński and Marcinkowski (2006), L/d =1, Newtonian \"", "Re": 4.56, "Cd": 0.3423},
      {"s": "Dziubiński and Marcinkowski (2006), L/d =1, Newtonian \"", "Re": 5.004, "Cd": 0.3565},
      {"s": "Dziubiński and Marcinkowski (2006), L/d =1, Newtonian \"", "Re": 5.493, "Cd": 0.3712},
      {"s": "Dziubiński and Marcinkowski (2006), L/d =1, Newtonian \"", "Re": 6.03, "Cd": 0.3865},
      {"s": "Dziubiński and Marcinkowski (2006), L/d =1, Newtonian \"", "Re": 6.619, "Cd": 0.401},
      {"s": "Dziubiński and Marcinkowski (2006), L/d =1, Newtonian \"", "Re": 7.265, "Cd": 0.4161},
      {"s": "Dziubiński and Marcinkowski (2006), L/d =1, Newtonian \"", "Re": 7.974, "Cd": 0.4317},
      {"s": "Dziubiński and Marcinkowski (2006), L/d =1, Newtonian \"", "Re": 8.753, "Cd": 0.4479},
      {"s": "Dziubiński and Marcinkowski (2006), L/d =1, Newtonian \"", "Re": 9.609, "Cd": 0.4647},
      {"s": "Dziubiński and Marcinkowski (2006), L/d =1, Newtonian \"", "Re": 10.55, "Cd": 0.4822},
      {"s": "Dziubiński and Marcinkowski (2006), L/d =1, Newtonian \"", "Re": 11.58, "Cd": 0.4966},
      {"s": "Dziubiński and Marcinkowski (2006), L/d =1, Newtonian \"", "Re": 12.71, "Cd": 0.5114},
      {"s": "Dziubiński and Marcinkowski (2006), L/d =1, Newtonian \"", "Re": 13.95, "Cd": 0.5267},
      {"s": "Dziubiński and Marcinkowski (2006), L/d =1, Newtonian \"", "Re": 15.31, "Cd": 0.5425},
      {"s": "Dziubiński and Marcinkowski (2006), L/d =1, Newtonian \"", "Re": 16.81, "Cd": 0.5587},
      {"s": "Dziubiński and Marcinkowski (2006), L/d =1, Newtonian \"", "Re": 18.45, "Cd": 0.5754},
      {"s": "Dziubiński and Marcinkowski (2006), L/d =1, Newtonian \"", "Re": 20.25, "Cd": 0.5904},
      {"s": "Dziubiński and Marcinkowski (2006), L/d =1, Newtonian \"", "Re": 22.23, "Cd": 0.6058},
      {"s": "Dziubiński and Marcinkowski (2006), L/d =1, Newtonian \"", "Re": 24.4, "Cd": 0.6218},
      {"s": "Dziubiński and Marcinkowski (2006), L/d =1, Newtonian \"", "Re": 26.78, "Cd": 0.6383},
      {"s": "Dziubiński and Marcinkowski (2006), L/d =1, Newtonian \"", "Re": 29.4, "Cd": 0.6524},
      {"s": "Dziubiński and Marcinkowski (2006), L/d =1, Newtonian \"", "Re": 32.27, "Cd": 0.6668},
      {"s": "Dziubiński and Marcinkowski (2006), L/d =1, Newtonian \"", "Re": 35.89, "Cd": 0.6768},
      {"s": "Dziubiński and Marcinkowski (2006), L/d =1, Newtonian \"", "Re": 39.92, "Cd": 0.687},
      {"s": "Dziubiński and Marcinkowski (2006), L/d =1, Newtonian \"", "Re": 44.41, "Cd": 0.6946},
      {"s": "Dziubiński and Marcinkowski (2006), L/d =1, Newtonian \"", "Re": 49.4, "Cd": 0.7022},
      {"s": "Dziubiński and Marcinkowski (2006), L/d =1, Newtonian \"", "Re": 54.94, "Cd": 0.7048},
      {"s": "Dziubiński and Marcinkowski (2006), L/d =1, Newtonian \"", "Re": 61.1, "Cd": 0.7075},
      {"s": "Dziubiński and Marcinkowski (2006), L/d =1, Newtonian \"", "Re": 527.8, "Cd": 0.6194},
      {"s": "Dziubiński and Marcinkowski (2006), L/d =1, Newtonian \"", "Re": 587, "Cd": 0.615},
      {"s": "Dziubiński and Marcinkowski (2006), L/d =1, Newtonian \"", "Re": 653.1, "Cd": 0.6106},
      {"s": "Dziubiński and Marcinkowski (2006), L/d =1, Newtonian \"", "Re": 726, "Cd": 0.6106},
      {"s": "Dziubiński and Marcinkowski (2006), L/d =1, Newtonian \"", "Re": 808, "Cd": 0.6106},
      {"s": "Dziubiński and Marcinkowski (2006), L/d =1, Newtonian \"", "Re": 887, "Cd": 0.6106},
      {"s": "Dziubiński and Marcinkowski (2006), L/d =1, Newtonian \"", "Re": 973.6, "Cd": 0.6106},
      {"s": "Dziubiński and Marcinkowski (2006), L/d =1, Newtonian \"", "Re": 3227, "Cd": 0.6106},
      {"s": "Dziubiński and Marcinkowski (2006), L/d =1, Newtonian \"", "Re": 3590, "Cd": 0.6082},
      {"s": "Dziubiński and Marcinkowski (2006), L/d =1, Newtonian \"", "Re": 3993, "Cd": 0.6058},
      {"s": "Dziubiński and Marcinkowski (2006), L/d =1, Newtonian \"", "Re": 4440, "Cd": 0.6037},
      {"s": "Dziubiński and Marcinkowski (2006), L/d =1, Newtonian \"", "Re": 4938, "Cd": 0.6017},
      {"s": "Dziubiński and Marcinkowski (2006), L/d =1, Newtonian \"", "Re": 5493, "Cd": 0.6017},
      {"s": "Dziubiński and Marcinkowski (2006), L/d =1, Newtonian \"", "Re": 6110, "Cd": 0.6017},
      {"s": "Dziubiński and Marcinkowski (2006), L/d =1, Newtonian \"", "Re": 6797, "Cd": 0.5993},
      {"s": "Dziubiński and Marcinkowski (2006), L/d =1, Newtonian \"", "Re": 7560, "Cd": 0.597},
      {"s": "Dziubiński and Marcinkowski (2006), L/d =1, Newtonian \"", "Re": 8411, "Cd": 0.597},
      {"s": "Dziubiński and Marcinkowski (2006), L/d =1, Newtonian \"", "Re": 9357, "Cd": 0.597},
      {"s": "Dziubiński and Marcinkowski (2006), L/d =0.5, Newtonian", "Re": 0.03018, "Cd": 0.0311},
      {"s": "Dziubiński and Marcinkowski (2006), L/d =0.5, Newtonian", "Re": 0.0427, "Cd": 0.0358},
      {"s": "Dziubiński and Marcinkowski (2006), L/d =0.5, Newtonian", "Re": 0.04685, "Cd": 0.0377},
      {"s": "Dziubiński and Marcinkowski (2006), L/d =0.5, Newtonian", "Re": 0.0514, "Cd": 0.0397},
      {"s": "Dziubiński and Marcinkowski (2006), L/d =0.5, Newtonian", "Re": 0.0564, "Cd": 0.0413},
      {"s": "Dziubiński and Marcinkowski (2006), L/d =0.5, Newtonian", "Re": 0.0619, "Cd": 0.043},
      {"s": "Dziubiński and Marcinkowski (2006), L/d =0.5, Newtonian", "Re": 0.068, "Cd": 0.0453},
      {"s": "Dziubiński and Marcinkowski (2006), L/d =0.5, Newtonian", "Re": 0.0746, "Cd": 0.0477},
      {"s": "Dziubiński and Marcinkowski (2006), L/d =0.5, Newtonian", "Re": 0.0819, "Cd": 0.0502},
      {"s": "Dziubiński and Marcinkowski (2006), L/d =0.5, Newtonian", "Re": 0.0899, "Cd": 0.0528},
      {"s": "Dziubiński and Marcinkowski (2006), L/d =0.5, Newtonian", "Re": 0.0987, "Cd": 0.0556},
      {"s": "Dziubiński and Marcinkowski (2006), L/d =0.5, Newtonian", "Re": 0.1083, "Cd": 0.0586},
      {"s": "Dziubiński and Marcinkowski (2006), L/d =0.5, Newtonian", "Re": 0.1189, "Cd": 0.0617},
      {"s": "Dziubiński and Marcinkowski (2006), L/d =0.5, Newtonian", "Re": 0.1305, "Cd": 0.065},
      {"s": "Dziubiński and Marcinkowski (2006), L/d =0.5, Newtonian", "Re": 0.1432, "Cd": 0.0685},
      {"s": "Dziubiński and Marcinkowski (2006), L/d =0.5, Newtonian", "Re": 0.1572, "Cd": 0.0721},
      {"s": "Dziubiński and Marcinkowski (2006), L/d =0.5, Newtonian", "Re": 0.1726, "Cd": 0.0762},
      {"s": "Dziubiński and Marcinkowski (2006), L/d =0.5, Newtonian", "Re": 0.1894, "Cd": 0.0805},
      {"s": "Dziubiński and Marcinkowski (2006), L/d =0.5, Newtonian", "Re": 0.2079, "Cd": 0.0851},
      {"s": "Dziubiński and Marcinkowski (2006), L/d =0.5, Newtonian", "Re": 0.2283, "Cd": 0.0899},
      {"s": "Dziubiński and Marcinkowski (2006), L/d =0.5, Newtonian", "Re": 0.2506, "Cd": 0.0946},
      {"s": "Dziubiński and Marcinkowski (2006), L/d =0.5, Newtonian", "Re": 0.275, "Cd": 0.0996},
      {"s": "Dziubiński and Marcinkowski (2006), L/d =0.5, Newtonian", "Re": 0.3018, "Cd": 0.1053},
      {"s": "Dziubiński and Marcinkowski (2006), L/d =0.5, Newtonian", "Re": 0.3313, "Cd": 0.1113},
      {"s": "Dziubiński and Marcinkowski (2006), L/d =0.5, Newtonian", "Re": 0.3637, "Cd": 0.1176},
      {"s": "Dziubiński and Marcinkowski (2006), L/d =0.5, Newtonian", "Re": 0.3993, "Cd": 0.1243},
      {"s": "Dziubiński and Marcinkowski (2006), L/d =0.5, Newtonian", "Re": 0.4383, "Cd": 0.1309},
      {"s": "Dziubiński and Marcinkowski (2006), L/d =0.5, Newtonian", "Re": 0.481, "Cd": 0.1378},
      {"s": "Dziubiński and Marcinkowski (2006), L/d =0.5, Newtonian", "Re": 0.5279, "Cd": 0.1451},
      {"s": "Dziubiński and Marcinkowski (2006), L/d =0.5, Newtonian", "Re": 0.5794, "Cd": 0.1528},
      {"s": "Dziubiński and Marcinkowski (2006), L/d =0.5, Newtonian", "Re": 0.6359, "Cd": 0.1609},
      {"s": "Dziubiński and Marcinkowski (2006), L/d =0.5, Newtonian", "Re": 0.698, "Cd": 0.1694},
      {"s": "Dziubiński and Marcinkowski (2006), L/d =0.5, Newtonian", "Re": 0.7662, "Cd": 0.1777},
      {"s": "Dziubiński and Marcinkowski (2006), L/d =0.5, Newtonian", "Re": 0.841, "Cd": 0.1864},
      {"s": "Dziubiński and Marcinkowski (2006), L/d =0.5, Newtonian", "Re": 0.923, "Cd": 0.1955},
      {"s": "Dziubiński and Marcinkowski (2006), L/d =0.5, Newtonian", "Re": 1.013, "Cd": 0.2051},
      {"s": "Dziubiński and Marcinkowski (2006), L/d =0.5, Newtonian", "Re": 1.112, "Cd": 0.2152},
      {"s": "Dziubiński and Marcinkowski (2006), L/d =0.5, Newtonian", "Re": 1.221, "Cd": 0.2257},
      {"s": "Dziubiński and Marcinkowski (2006), L/d =0.5, Newtonian", "Re": 1.34, "Cd": 0.2368},
      {"s": "Dziubiński and Marcinkowski (2006), L/d =0.5, Newtonian", "Re": 1.471, "Cd": 0.2485},
      {"s": "Dziubiński and Marcinkowski (2006), L/d =0.5, Newtonian", "Re": 1.615, "Cd": 0.2597},
      {"s": "Dziubiński and Marcinkowski (2006), L/d =0.5, Newtonian", "Re": 1.773, "Cd": 0.2714},
      {"s": "Dziubiński and Marcinkowski (2006), L/d =0.5, Newtonian", "Re": 1.946, "Cd": 0.2837},
      {"s": "Dziubiński and Marcinkowski (2006), L/d =0.5, Newtonian", "Re": 2.135, "Cd": 0.2965},
      {"s": "Dziubiński and Marcinkowski (2006), L/d =0.5, Newtonian", "Re": 2.344, "Cd": 0.3099},
      {"s": "Dziubiński and Marcinkowski (2006), L/d =0.5, Newtonian", "Re": 2.573, "Cd": 0.3239},
      {"s": "Dziubiński and Marcinkowski (2006), L/d =0.5, Newtonian", "Re": 2.824, "Cd": 0.3385},
      {"s": "Dziubiński and Marcinkowski (2006), L/d =0.5, Newtonian", "Re": 3.099, "Cd": 0.3538},
      {"s": "Dziubiński and Marcinkowski (2006), L/d =0.5, Newtonian", "Re": 3.402, "Cd": 0.3685},
      {"s": "Dziubiński and Marcinkowski (2006), L/d =0.5, Newtonian", "Re": 3.735, "Cd": 0.3837},
      {"s": "Dziubiński and Marcinkowski (2006), L/d =0.5, Newtonian", "Re": 4.099, "Cd": 0.3996},
      {"s": "Dziubiński and Marcinkowski (2006), L/d =0.5, Newtonian", "Re": 4.499, "Cd": 0.4161},
      {"s": "Dziubiński and Marcinkowski (2006), L/d =0.5, Newtonian", "Re": 4.939, "Cd": 0.4317},
      {"s": "Dziubiński and Marcinkowski (2006), L/d =0.5, Newtonian", "Re": 5.422, "Cd": 0.4479},
      {"s": "Dziubiński and Marcinkowski (2006), L/d =0.5, Newtonian", "Re": 5.951, "Cd": 0.463},
      {"s": "Dziubiński and Marcinkowski (2006), L/d =0.5, Newtonian", "Re": 6.531, "Cd": 0.4786},
      {"s": "Dziubiński and Marcinkowski (2006), L/d =0.5, Newtonian", "Re": 7.169, "Cd": 0.4947},
      {"s": "Dziubiński and Marcinkowski (2006), L/d =0.5, Newtonian", "Re": 7.87, "Cd": 0.5114},
      {"s": "Dziubiński and Marcinkowski (2006), L/d =0.5, Newtonian", "Re": 8.639, "Cd": 0.5229},
      {"s": "Dziubiński and Marcinkowski (2006), L/d =0.5, Newtonian", "Re": 9.482, "Cd": 0.5346},
      {"s": "Dziubiński and Marcinkowski (2006), L/d =0.5, Newtonian", "Re": 10.41, "Cd": 0.5465},
      {"s": "Dziubiński and Marcinkowski (2006), L/d =0.5, Newtonian", "Re": 11.42, "Cd": 0.5587},
      {"s": "Dziubiński and Marcinkowski (2006), L/d =0.5, Newtonian", "Re": 12.54, "Cd": 0.5692},
      {"s": "Dziubiński and Marcinkowski (2006), L/d =0.5, Newtonian", "Re": 13.76, "Cd": 0.5799},
      {"s": "Dziubiński and Marcinkowski (2006), L/d =0.5, Newtonian", "Re": 15.31, "Cd": 0.5951},
      {"s": "Dziubiński and Marcinkowski (2006), L/d =0.5, Newtonian", "Re": 17.03, "Cd": 0.6106},
      {"s": "Dziubiński and Marcinkowski (2006), L/d =0.5, Newtonian", "Re": 18.94, "Cd": 0.6264},
      {"s": "Dziubiński and Marcinkowski (2006), L/d =0.5, Newtonian", "Re": 21.07, "Cd": 0.6427},
      {"s": "Dziubiński and Marcinkowski (2006), L/d =0.5, Newtonian", "Re": 23.44, "Cd": 0.6572},
      {"s": "Dziubiński and Marcinkowski (2006), L/d =0.5, Newtonian", "Re": 26.08, "Cd": 0.672},
      {"s": "Dziubiński and Marcinkowski (2006), L/d =0.5, Newtonian", "Re": 29.01, "Cd": 0.687},
      {"s": "Dziubiński and Marcinkowski (2006), L/d =0.5, Newtonian", "Re": 32.27, "Cd": 0.7022},
      {"s": "Dziubiński and Marcinkowski (2006), L/d =0.5, Newtonian", "Re": 35.89, "Cd": 0.7153},
      {"s": "Dziubiński and Marcinkowski (2006), L/d =0.5, Newtonian", "Re": 39.92, "Cd": 0.7286},
      {"s": "Dziubiński and Marcinkowski (2006), L/d =0.5, Newtonian", "Re": 44.41, "Cd": 0.7366},
      {"s": "Dziubiński and Marcinkowski (2006), L/d =0.5, Newtonian", "Re": 49.4, "Cd": 0.7447},
      {"s": "Dziubiński and Marcinkowski (2006), L/d =0.5, Newtonian", "Re": 54.94, "Cd": 0.7502},
      {"s": "Dziubiński and Marcinkowski (2006), L/d =0.5, Newtonian", "Re": 61.1, "Cd": 0.7558},
      {"s": "Dziubiński and Marcinkowski (2006), L/d =0.5, Newtonian", "Re": 852.3, "Cd": 0.79},
      {"s": "Dziubiński and Marcinkowski (2006), L/d =0.5, Newtonian", "Re": 973.6, "Cd": 0.787},
      {"s": "Dziubiński and Marcinkowski (2006), L/d =0.5, Newtonian", "Re": 1112, "Cd": 0.7842},
      {"s": "Dziubiński and Marcinkowski (2006), L/d =0.5, Newtonian", "Re": 1270, "Cd": 0.7784},
      {"s": "Dziubiński and Marcinkowski (2006), L/d =0.5, Newtonian", "Re": 1451, "Cd": 0.7727},
      {"s": "Dziubiński and Marcinkowski (2006), L/d =0.5, Newtonian", "Re": 1658, "Cd": 0.7671},
      {"s": "Dziubiński and Marcinkowski (2006), L/d =0.5, Newtonian", "Re": 1895, "Cd": 0.7616},
      {"s": "Dziubiński and Marcinkowski (2006), L/d =0.5, Newtonian", "Re": 2165, "Cd": 0.7531},
      {"s": "Dziubiński and Marcinkowski (2006), L/d =0.5, Newtonian", "Re": 2473, "Cd": 0.7447},
      {"s": "Dziubiński and Marcinkowski (2006), L/d =0.5, Newtonian", "Re": 2825, "Cd": 0.731},
      {"s": "Dziubiński and Marcinkowski (2006), L/d =0.5, Newtonian", "Re": 3227, "Cd": 0.7178},
      {"s": "Dziubiński and Marcinkowski (2006), L/d =0.5, Newtonian", "Re": 3541, "Cd": 0.7047},
      {"s": "Dziubiński and Marcinkowski (2006), L/d =0.5, Newtonian", "Re": 3886, "Cd": 0.6918},
      {"s": "Dziubiński and Marcinkowski (2006), L/d =0.5, Newtonian", "Re": 4154, "Cd": 0.6792},
      {"s": "Dziubiński and Marcinkowski (2006), L/d =0.5, Newtonian", "Re": 4440, "Cd": 0.6668},
      {"s": "Dziubiński and Marcinkowski (2006), L/d =1, non-Newtonian", "Re": 0.3496, "Cd": 0.0491},
      {"s": "Dziubiński and Marcinkowski (2006), L/d =1, non-Newtonian", "Re": 0.8637, "Cd": 0.0787},
      {"s": "Dziubiński and Marcinkowski (2006), L/d =1, non-Newtonian", "Re": 0.9867, "Cd": 0.0873},
      {"s": "Dziubiński and Marcinkowski (2006), L/d =1, non-Newtonian", "Re": 1.254, "Cd": 0.0967},
      {"s": "Dziubiński and Marcinkowski (2006), L/d =1, non-Newtonian", "Re": 1.773, "Cd": 0.1129},
      {"s": "Dziubiński and Marcinkowski (2006), L/d =1, non-Newtonian", "Re": 3.448, "Cd": 0.1632},
      {"s": "Dziubiński and Marcinkowski (2006), L/d =1, non-Newtonian", "Re": 6.709, "Cd": 0.2144},
      {"s": "Dziubiński and Marcinkowski (2006), L/d =1, non-Newtonian", "Re": 9.233, "Cd": 0.254},
      {"s": "Dziubiński and Marcinkowski (2006), L/d =1, non-Newtonian", "Re": 14.51, "Cd": 0.3054},
      {"s": "Dziubiński and Marcinkowski (2006), L/d =1, non-Newtonian", "Re": 23.44, "Cd": 0.3671},
      {"s": "Dziubiński and Marcinkowski (2006), L/d =1, non-Newtonian", "Re": 34.95, "Cd": 0.4479},
      {"s": "Dziubiński and Marcinkowski (2006), L/d =1, non-Newtonian", "Re": 53.5, "Cd": 0.5306},
      {"s": "Dziubiński and Marcinkowski (2006), L/d =1, non-Newtonian", "Re": 66.2, "Cd": 0.597},
      {"s": "Dziubiński and Marcinkowski (2006), L/d =1, non-Newtonian", "Re": 115.8, "Cd": 0.7075},
      {"s": "Dziubiński and Marcinkowski (2006), L/d =1, non-Newtonian", "Re": 278.6, "Cd": 0.734},
      {"s": "Dziubiński and Marcinkowski (2006), L/d =0, non-Newtonian \"", "Re": 0.08753, "Cd": 0.0374},
      {"s": "Dziubiński and Marcinkowski (2006), L/d =0, non-Newtonian \"", "Re": 0.1112, "Cd": 0.0402},
      {"s": "Dziubiński and Marcinkowski (2006), L/d =0, non-Newtonian \"", "Re": 0.1795, "Cd": 0.0532},
      {"s": "Dziubiński and Marcinkowski (2006), L/d =0, non-Newtonian \"", "Re": 0.3993, "Cd": 0.0747},
      {"s": "Dziubiński and Marcinkowski (2006), L/d =0, non-Newtonian \"", "Re": 0.535, "Cd": 0.0811},
      {"s": "Dziubiński and Marcinkowski (2006), L/d =0, non-Newtonian \"", "Re": 0.961, "Cd": 0.1088},
      {"s": "Dziubiński and Marcinkowski (2006), L/d =0, non-Newtonian \"", "Re": 1.511, "Cd": 0.1348},
      {"s": "Dziubiński and Marcinkowski (2006), L/d =0, non-Newtonian \"", "Re": 2.787, "Cd": 0.1757},
      {"s": "Dziubiński and Marcinkowski (2006), L/d =0, non-Newtonian \"", "Re": 4.875, "Cd": 0.224},
      {"s": "Dziubiński and Marcinkowski (2006), L/d =0, non-Newtonian \"", "Re": 6.709, "Cd": 0.2674},
      {"s": "Dziubiński and Marcinkowski (2006), L/d =0, non-Newtonian \"", "Re": 10.0, "Cd": 0.3099},
      {"s": "Dziubiński and Marcinkowski (2006), L/d =0, non-Newtonian \"", "Re": 12.71, "Cd": 0.3591},
      {"s": "Dziubiński and Marcinkowski (2006), L/d =0, non-Newtonian \"", "Re": 17.96, "Cd": 0.4317},
      {"s": "Dziubiński and Marcinkowski (2006), L/d =0, non-Newtonian \"", "Re": 23.44, "Cd": 0.4681},
      {"s": "Dziubiński and Marcinkowski (2006), L/d =0, non-Newtonian \"", "Re": 34.95, "Cd": 0.5465},
      {"s": "Dziubiński and Marcinkowski (2006), L/d =0, non-Newtonian \"", "Re": 45.6, "Cd": 0.6151},
      {"s": "Dziubiński and Marcinkowski (2006), L/d =0, non-Newtonian \"", "Re": 56.4, "Cd": 0.6769},
      {"s": "Dziubiński and Marcinkowski (2006), L/d =0, non-Newtonian \"", "Re": 73.6, "Cd": 0.7075},
      {"s": "Dziubiński and Marcinkowski (2006), L/d =0, non-Newtonian \"", "Re": 96.1, "Cd": 0.7395},
      {"s": "Dziubiński and Marcinkowski (2006), L/d =0, non-Newtonian \"", "Re": 125.5, "Cd": 0.7616},
      {"s": "Dziubiński and Marcinkowski (2006), L/d =0, non-Newtonian \"", "Re": 182, "Cd": 0.7395},
      {"s": "Dziubiński and Marcinkowski (2006), L/d =0, non-Newtonian \"", "Re": 225.3, "Cd": 0.7075},
      {"s": "Dziubiński and Marcinkowski (2006), L/d =0, non-Newtonian \"", "Re": 278.6, "Cd": 0.6622},
      {"s": "Dziubiński and Marcinkowski (2006), L/d =0, non-Newtonian \"", "Re": 344.8, "Cd": 0.6525},
      {"s": "Dziubiński and Marcinkowski (2006), L/d =0, non-Newtonian \"", "Re": 426.8, "Cd": 0.6427},
      {"s": "Dziubiński and Marcinkowski (2006), L/d =0, non-Newtonian \"", "Re": 527.8, "Cd": 0.6151},
      {"s": "Dziubiński and Marcinkowski (2006), L/d =0.5, non-Newtonian", "Re": 0.3141, "Cd": 0.0557},
      {"s": "Dziubiński and Marcinkowski (2006), L/d =0.5, non-Newtonian", "Re": 0.4439, "Cd": 0.0626},
      {"s": "Dziubiński and Marcinkowski (2006), L/d =0.5, non-Newtonian", "Re": 0.5953, "Cd": 0.0747},
      {"s": "Dziubiński and Marcinkowski (2006), L/d =0.5, non-Newtonian", "Re": 0.7766, "Cd": 0.0823},
      {"s": "Dziubiński and Marcinkowski (2006), L/d =0.5, non-Newtonian", "Re": 1.322, "Cd": 0.1026},
      {"s": "Dziubiński and Marcinkowski (2006), L/d =0.5, non-Newtonian", "Re": 2.135, "Cd": 0.1378},
      {"s": "Dziubiński and Marcinkowski (2006), L/d =0.5, non-Newtonian", "Re": 4.499, "Cd": 0.185},
      {"s": "Dziubiński and Marcinkowski (2006), L/d =0.5, non-Newtonian", "Re": 7.661, "Cd": 0.243},
      {"s": "Dziubiński and Marcinkowski (2006), L/d =0.5, non-Newtonian", "Re": 17.96, "Cd": 0.3538},
      {"s": "Dziubiński and Marcinkowski (2006), L/d =0.5, non-Newtonian", "Re": 21.64, "Cd": 0.378},
      {"s": "Dziubiński and Marcinkowski (2006), L/d =0.5, non-Newtonian", "Re": 33.13, "Cd": 0.4681},
      {"s": "Dziubiński and Marcinkowski (2006), L/d =0.5, non-Newtonian", "Re": 93.6, "Cd": 0.6336},
      {"s": "Dziubiński and Marcinkowski (2006), L/d =0.5, non-Newtonian", "Re": 109.8, "Cd": 0.6383},
      {"s": "Çobanoğlu (2008), L/d =8, Water", "Re": 2164, "Cd": 0.687},
      {"s": "Çobanoğlu (2008), L/d =8, Water", "Re": 2608, "Cd": 0.6971},
      {"s": "Çobanoğlu (2008), L/d =8, Water", "Re": 3141, "Cd": 0.7127},
      {"s": "Çobanoğlu (2008), L/d =8, Water", "Re": 3686, "Cd": 0.7233},
      {"s": "Çobanoğlu (2008), L/d =8, Water", "Re": 4323, "Cd": 0.734},
      {"s": "Çobanoğlu (2008), L/d =8, Water", "Re": 5072, "Cd": 0.7447},
      {"s": "Çobanoğlu (2008), L/d =8, Water", "Re": 5951, "Cd": 0.7616},
      {"s": "Çobanoğlu (2008), L/d =8, Water", "Re": 6982, "Cd": 0.7727},
      {"s": "Çobanoğlu (2008), L/d =8, Water", "Re": 8191, "Cd": 0.7842},
      {"s": "Çobanoğlu (2008), L/d =8, Water", "Re": 9610, "Cd": 0.7899},
      {"s": "Çobanoğlu (2008), L/d =8, Water", "Re": 11270, "Cd": 0.79},
      {"s": "Çobanoğlu (2008), L/d =8, Water", "Re": 12880, "Cd": 0.7727},
      {"s": "Çobanoğlu (2008), L/d =5, Water", "Re": 3401, "Cd": 0.6971},
      {"s": "Çobanoğlu (2008), L/d =5, Water", "Re": 4100, "Cd": 0.6918},
      {"s": "Çobanoğlu (2008), L/d =5, Water", "Re": 4938, "Cd": 0.687},
      {"s": "Çobanoğlu (2008), L/d =5, Water", "Re": 5951, "Cd": 0.687},
      {"s": "Çobanoğlu (2008), L/d =5, Water", "Re": 6982, "Cd": 0.7022},
      {"s": "Çobanoğlu (2008), L/d =5, Water", "Re": 8191, "Cd": 0.7286},
      {"s": "Çobanoğlu (2008), L/d =5, Water", "Re": 9610, "Cd": 0.7505},
      {"s": "Çobanoğlu (2008), L/d =5, Water", "Re": 11270, "Cd": 0.7558},
      {"s": "Çobanoğlu (2008), L/d =5, Water", "Re": 13220, "Cd": 0.7447},
      {"s": "Çobanoğlu (2008), L/d =5, Water", "Re": 15110, "Cd": 0.7286},
      {"s": "Çobanoğlu (2008), L/d =5, Water", "Re": 16810, "Cd": 0.7075},
      {"s": "Çobanoğlu (2008), L/d =5, Water", "Re": 18200, "Cd": 0.6819},
      {"s": "Çobanoğlu (2008), L/d =5, Water", "Re": 19200, "Cd": 0.6573},
      {"s": "Çobanoğlu (2008), L/d =5, Water", "Re": 19200, "Cd": 0.6383}
    ]
  },
  "layer": [
    {
      "data": {"name": "lea"},
      "mark": {"type": "line", "color": "#000000", "strokeWidth": 4, "strokeCap": "round", "strokeDash": [44, 25, 0.1, 25, 0.1, 24], "clip": true},
      "encoding": {
        "x": {
          "field": "Re", "type": "quantitative",
          "scale": {"type": "log", "domain": [0.001, 887000], "nice": false},
          "axis": {
            "values": [0.001, 0.01, 0.02, 0.03, 0.04, 0.05, 0.06, 0.07, 0.08, 0.09, 0.1, 1, 2, 3, 4, 5, 6, 7, 8, 9, 10, 100, 200, 300, 400, 500, 600, 700, 800, 900, 1000, 10000, 20000, 30000, 40000, 50000, 60000, 70000, 80000, 90000, 100000],
            "format": "~g",
            "labelExpr": "datum.value === 0.001 || datum.value === 0.1 || datum.value === 10 || datum.value === 1000 || datum.value === 100000 ? datum.label : ''",
            "labelFontSize": 25, "labelFlush": false, "labelOverlap": false, "labelPadding": 19,
            "domainColor": "#000000", "domainWidth": 2,
            "grid": true,
            "gridColor": {"condition": {"test": "datum.value === 0.001 || datum.value === 0.1 || datum.value === 10 || datum.value === 1000 || datum.value === 100000", "value": "#8c8c8c"}, "value": "#c6c6c6"},
            "gridWidth": {"condition": {"test": "datum.value === 0.001 || datum.value === 0.1 || datum.value === 10 || datum.value === 1000 || datum.value === 100000", "value": 2}, "value": 1.5},
            "tickColor": "#000000", "tickWidth": 1.5, "tickSize": 8,
            "title": "Re", "titleFontSize": 24, "titleAlign": "center", "titleBaseline": "middle", "titleX": 346, "titleY": 72
          }
        },
        "y": {
          "field": "Cd", "type": "quantitative",
          "scale": {"type": "log", "domain": [0.01, 1], "nice": false},
          "axis": {
            "values": [0.01, 0.02, 0.03, 0.04, 0.05, 0.06, 0.07, 0.08, 0.09, 0.1, 0.2, 0.3, 0.4, 0.5, 0.6, 0.7, 0.8, 0.9, 1],
            "format": "~g",
            "labelExpr": "datum.value === 0.01 || datum.value === 0.1 || datum.value === 1 ? datum.label : ''",
            "labelFontSize": 25, "labelPadding": 21, "labelOverlap": false,
            "domainColor": "#000000", "domainWidth": 2,
            "grid": true,
            "gridColor": {"condition": {"test": "datum.value === 0.01 || datum.value === 0.1", "value": "#8c8c8c"}, "value": "#c6c6c6"},
            "gridWidth": {"condition": {"test": "datum.value === 0.01 || datum.value === 0.1", "value": 2}, "value": 1.5},
            "gridOpacity": {"condition": {"test": "datum.value === 1", "value": 0}, "value": 1},
            "tickColor": "#000000", "tickWidth": 1.5, "tickSize": 9,
            "title": "C", "titleFontSize": 25, "titleAngle": 270, "titleAlign": "center", "titleBaseline": "middle", "titleX": -115, "titleY": 319
          }
        }
      }
    },
    {
      "data": {"name": "pts"},
      "mark": {"type": "point", "filled": true, "opacity": 1, "strokeWidth": 0, "clip": false},
      "encoding": {
        "x": {"field": "Re", "type": "quantitative"},
        "y": {"field": "Cd", "type": "quantitative"},
        "color": {
          "field": "s", "type": "nominal",
          "scale": {
            "domain": ["Lea (1938), L/d = 0, Water", "Medaugh and Johnson (1940), L/d =0, Water \"", "Fox and Stark (1989), L/d=3, Water", "Kiljański  (1993), L/d =0, Newtonian", "Kiljański (1993), L/d =0.5, Newtonian", "Kiljański (1993), L/d =1, Newtonian", "Dziubiński and Marcinkowski (2006), L/d =0, Newtonian", "Dziubiński and Marcinkowski (2006), L/d =1, Newtonian \"", "Dziubiński and Marcinkowski (2006), L/d =0.5, Newtonian", "Dziubiński and Marcinkowski (2006), L/d =1, non-Newtonian", "Dziubiński and Marcinkowski (2006), L/d =0, non-Newtonian \"", "Dziubiński and Marcinkowski (2006), L/d =0.5, non-Newtonian", "Çobanoğlu (2008), L/d =8, Water", "Çobanoğlu (2008), L/d =5, Water"],
            "range": ["#000000", "#00b0f0", "#000000", "#a5a5a5", "#ffc000", "#4472c4", "#70ad47", "#255e91", "#9e480e", "#636363", "#997300", "#264478", "#7030a0", "#ff0000"]
          },
          "legend": {
            "title": null, "orient": "none", "legendX": 81, "legendY": 722.5, "direction": "vertical",
            "padding": 0, "labelFont": "Liberation Sans", "labelFontSize": 22, "labelColor": "#262626", "labelLimit": 900,
            "symbolStrokeWidth": 0, "rowPadding": 6.8, "labelOffset": 32,
            "encode": {
              "symbols": {
                "update": {
                  "fill": {"scale": "color", "field": "value"},
                  "fillOpacity": {"value": 1}
                }
              }
            }
          }
        },
        "shape": {
          "field": "s", "type": "nominal",
          "scale": {
            "domain": ["Lea (1938), L/d = 0, Water", "Medaugh and Johnson (1940), L/d =0, Water \"", "Fox and Stark (1989), L/d=3, Water", "Kiljański  (1993), L/d =0, Newtonian", "Kiljański (1993), L/d =0.5, Newtonian", "Kiljański (1993), L/d =1, Newtonian", "Dziubiński and Marcinkowski (2006), L/d =0, Newtonian", "Dziubiński and Marcinkowski (2006), L/d =1, Newtonian \"", "Dziubiński and Marcinkowski (2006), L/d =0.5, Newtonian", "Dziubiński and Marcinkowski (2006), L/d =1, non-Newtonian", "Dziubiński and Marcinkowski (2006), L/d =0, non-Newtonian \"", "Dziubiński and Marcinkowski (2006), L/d =0.5, non-Newtonian", "Çobanoğlu (2008), L/d =8, Water", "Çobanoğlu (2008), L/d =5, Water"],
            "range": ["M-6.6,-0.5L2.9,-0.5A0.5,0.5,0,0,1,2.9,0.5L-6.6,0.5A0.5,0.5,0,0,1,-6.6,-0.5Z", "circle", "square", "square", "square", "square", "square", "square", "square", "triangle-up", "square", "square", "circle", "square"]
          }
        },
        "size": {
          "field": "s", "type": "nominal",
          "scale": {
            "domain": ["Lea (1938), L/d = 0, Water", "Medaugh and Johnson (1940), L/d =0, Water \"", "Fox and Stark (1989), L/d=3, Water", "Kiljański  (1993), L/d =0, Newtonian", "Kiljański (1993), L/d =0.5, Newtonian", "Kiljański (1993), L/d =1, Newtonian", "Dziubiński and Marcinkowski (2006), L/d =0, Newtonian", "Dziubiński and Marcinkowski (2006), L/d =1, Newtonian \"", "Dziubiński and Marcinkowski (2006), L/d =0.5, Newtonian", "Dziubiński and Marcinkowski (2006), L/d =1, non-Newtonian", "Dziubiński and Marcinkowski (2006), L/d =0, non-Newtonian \"", "Dziubiński and Marcinkowski (2006), L/d =0.5, non-Newtonian", "Çobanoğlu (2008), L/d =8, Water", "Çobanoğlu (2008), L/d =5, Water"],
            "range": [100, 150, 225, 225, 225, 225, 225, 225, 225, 230, 250, 250, 110, 130]
          }
        }
      }
    }
  ]
}
